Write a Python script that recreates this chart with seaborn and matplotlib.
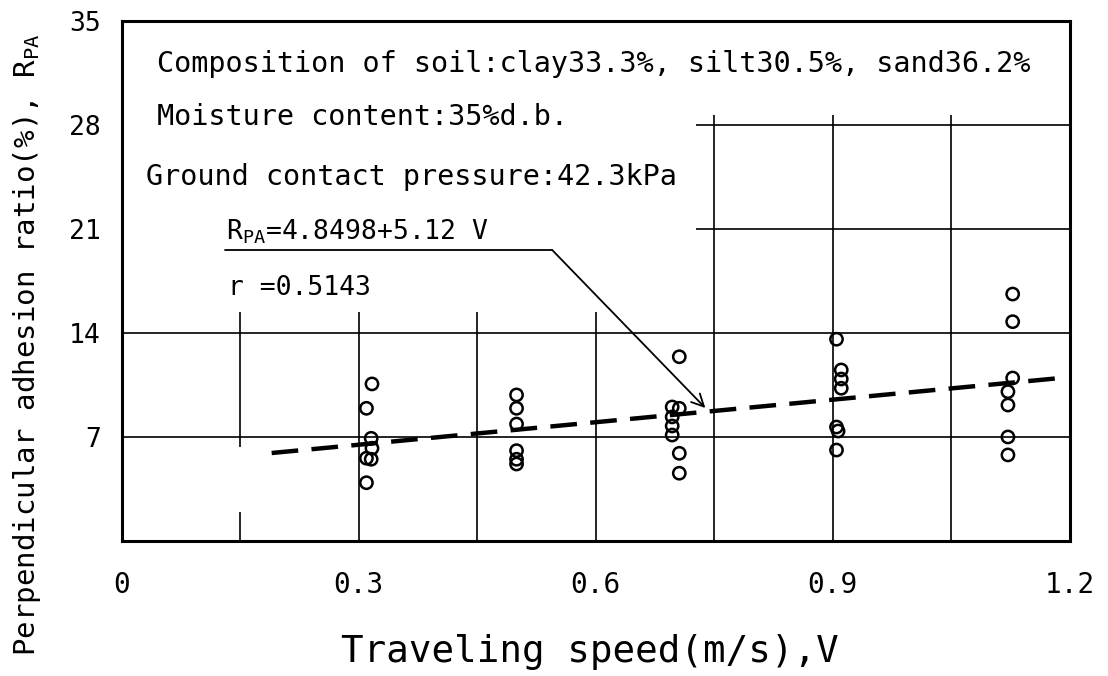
import matplotlib
matplotlib.use('Agg')
import matplotlib.pyplot as plt
import seaborn as sns
import numpy as np

sns.set_style("white")
plt.rcParams['font.family'] = ['DejaVu Sans Mono', 'DejaVu Sans']
plt.rcParams['mathtext.fontset'] = 'custom'
plt.rcParams['mathtext.rm'] = 'DejaVu Sans Mono'
plt.rcParams['mathtext.it'] = 'DejaVu Sans Mono'
plt.rcParams['text.color'] = 'black'
plt.rcParams['axes.labelcolor'] = 'black'

v_speed = [0.317, 0.310, 0.316, 0.317, 0.310, 0.316, 0.310,
           0.500, 0.500, 0.500, 0.500, 0.500, 0.500,
           0.706, 0.697, 0.706, 0.697, 0.697, 0.697, 0.706, 0.706,
           0.905, 0.911, 0.911, 0.911, 0.905, 0.907, 0.905,
           1.128, 1.128, 1.128, 1.122, 1.122, 1.122, 1.122]
r_pa = [10.55, 8.91, 6.89, 6.22, 5.55, 5.48, 3.90,
        9.81, 8.91, 7.85, 6.06, 5.48, 5.16,
        12.38, 9.00, 8.91, 8.33, 7.72, 7.11, 5.88, 4.54,
        13.56, 11.49, 10.88, 10.26, 7.65, 7.38, 6.10,
        16.60, 14.74, 10.95, 10.03, 9.13, 6.98, 5.77]

# regression line ends as drawn
fit_v = [0.19, 1.185]
fit_r = [5.90, 10.93]

x_ticks = [0, 0.3, 0.6, 0.9, 1.2]
x_tick_labels = ['0', '0.3', '0.6', '0.9', '1.2']
y_ticks = [7, 14, 21, 28, 35]
y_tick_labels = ['7', '14', '21', '28', '35']

fig = plt.figure(figsize=(11.08, 6.76), dpi=100)
ax = fig.add_axes([0.1097, 0.2002, 0.8556, 0.7692])
ax.set_xlim(0, 1.2)
ax.set_ylim(0, 35)

# grid, broken where the legend text sits
gc = dict(color='black', lw=1.2, zorder=1)
ax.hlines(7, 0, 1.2, **gc)
ax.hlines(14, 0, 1.2, **gc)
ax.hlines([21, 28], 0.727, 1.2, **gc)
ax.vlines([0.3, 0.45, 0.6], 0, 15.4, **gc)
ax.vlines(0.15, 0, 1.9, **gc)
ax.vlines(0.15, 6.3, 15.4, **gc)
ax.vlines([0.75, 0.9, 1.05], 0, 28.65, **gc)

sns.lineplot(x=fit_v, y=fit_r, ax=ax, color='black', lw=3.2,
             linestyle=(0, (6, 3)), zorder=3)
sns.scatterplot(x=v_speed, y=r_pa, ax=ax, marker='o', s=78,
                facecolor='none', edgecolor='black', linewidth=1.8, zorder=4)

for s in ax.spines.values():
    s.set_color('black')
    s.set_linewidth(2.2)

ax.set_xticks(x_ticks)
ax.set_xticklabels(x_tick_labels)
ax.set_yticks(y_ticks)
ax.set_yticklabels(y_tick_labels)
ax.tick_params(axis='x', length=0, pad=22, labelsize=20, colors='black')
ax.tick_params(axis='y', length=0, pad=15, labelsize=19, colors='black')

fig.text(0.5325, 0.036, 'Traveling speed(m/s),V', fontsize=27,
         ha='center', va='center')
fig.text(0.024, 0.49, r'Perpendicular adhesion ratio(%), R$_{\rm PA}$', fontsize=21,
         rotation=90, ha='center', va='center')

ax.text(0.045, 31.55, 'Composition of soil:clay33.3%, silt30.5%, sand36.2%',
        fontsize=20.5, va='baseline', ha='left')
ax.text(0.045, 27.98, 'Moisture content:35%d.b.', fontsize=20.5, va='baseline', ha='left')
ax.text(0.031, 23.94, 'Ground contact pressure:42.3kPa', fontsize=20.5, va='baseline', ha='left')
ax.text(0.132, 20.24, r'R$_{\rm PA}$=4.8498+5.12 V', fontsize=19, va='baseline', ha='left')
ax.text(0.135, 16.54, 'r =0.5143', fontsize=19, va='baseline', ha='left')

ax.plot([0.131, 0.545], [19.57, 19.57], color='black', lw=1.3)
ax.annotate('', xy=(0.739, 8.93), xytext=(0.545, 19.57),
            arrowprops=dict(arrowstyle='->', color='black', lw=1.3,
                            mutation_scale=22, shrinkA=0, shrinkB=0))

plt.savefig('out.png', dpi=100)
plt.close()
